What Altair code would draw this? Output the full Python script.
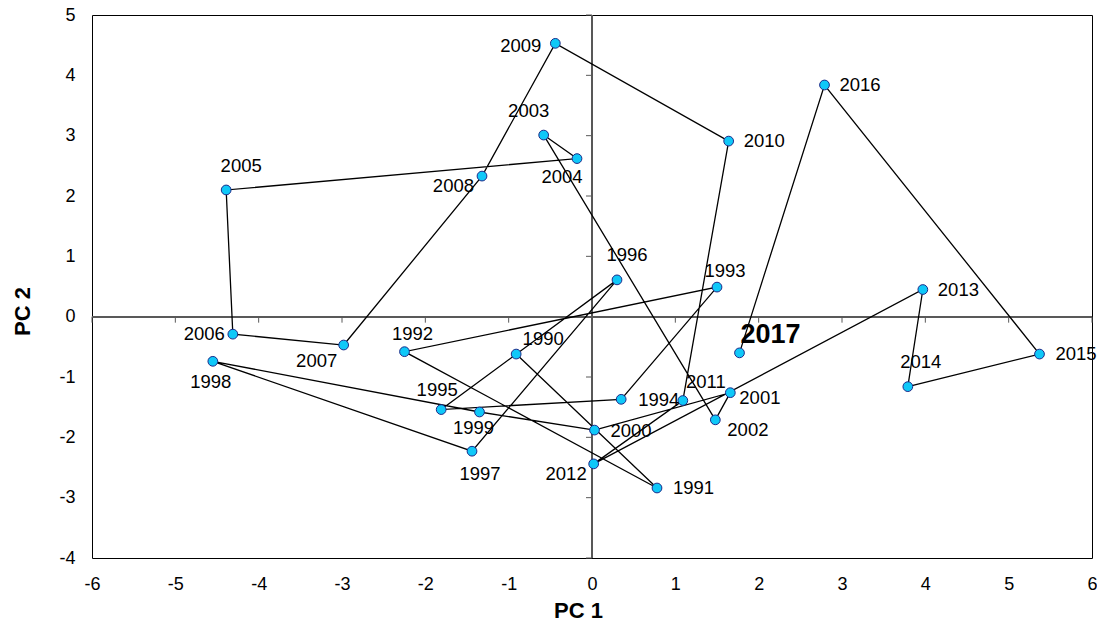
import altair as alt
import pandas as pd

# Principal-component scores by year
years = list(range(1990, 2018))
pc1 = [-0.91, 0.78, -2.25, 1.50, 0.35, -1.81, 0.30, -1.44, -4.55, -1.35,
       0.03, 1.66, 1.48, -0.58, -0.18, -4.39, -4.31, -2.98, -1.32, -0.44,
       1.64, 1.09, 0.02, 3.97, 3.79, 5.37, 2.79, 1.77]
pc2 = [-0.62, -2.84, -0.58, 0.49, -1.37, -1.54, 0.61, -2.23, -0.74, -1.58,
       -1.88, -1.26, -1.71, 3.01, 2.62, 2.10, -0.29, -0.47, 2.33, 4.53,
       2.91, -1.39, -2.44, 0.45, -1.16, -0.62, 3.84, -0.60]

x_ticks = list(range(-6, 7))
y_ticks = list(range(-4, 6))

df = pd.DataFrame({"year": years, "pc1": pc1, "pc2": pc2})
df["label"] = df["year"].astype(str)

# label nudges (align, dx, dy) in pixels relative to each point
label_nudge = {
    1990: ("center", 27, -15), 1991: ("left", 16, 0), 1992: ("center", 8, -18),
    1993: ("center", 8, -16), 1994: ("left", 17, 1), 1995: ("center", -4, -20),
    1996: ("center", 10, -25), 1997: ("center", 8, 23), 1998: ("center", -2, 21),
    1999: ("center", -6, 16), 2000: ("left", 16, 1), 2001: ("left", 9, 5),
    2002: ("left", 12, 10), 2003: ("center", -15, -24), 2004: ("center", -15, 18),
    2005: ("center", 15, -24), 2006: ("right", -8, 0), 2007: ("center", -27, 16),
    2008: ("right", -8, 10), 2009: ("right", -14, 3), 2010: ("left", 15, 0),
    2011: ("center", 23, -19), 2012: ("right", -7, 10), 2013: ("left", 15, 0),
    2014: ("center", 13, -25), 2015: ("left", 16, 0), 2016: ("left", 15, 0),
    2017: ("center", 31, -18),
}

FONT = "Liberation Sans"
xscale = alt.Scale(domain=[-6, 6], nice=False, zero=False)
yscale = alt.Scale(domain=[-4, 5], nice=False, zero=False)

x_axis = alt.Axis(values=x_ticks, grid=False, domain=False, ticks=False, tickSize=0,
                  labelPadding=17, labelFontSize=18, labelFont=FONT, labelColor="black",
                  labelFlush=False, labelOverlap=False, labelBound=False,
                  labelExpr="toString(datum.value)",
                  title="PC 1", titleFont=FONT, titleFontSize=22, titleFontWeight="bold",
                  titleColor="black", titleX=486, titleY=52, titleAlign="center",
                  titleBaseline="middle")
y_axis = alt.Axis(values=y_ticks, grid=False, domain=False, ticks=False, tickSize=0,
                  labelPadding=17, labelFontSize=18, labelFont=FONT, labelColor="black",
                  labelFlush=False, labelOverlap=False, labelBound=False,
                  labelExpr="toString(datum.value)",
                  title="PC 2", titleFont=FONT, titleFontSize=22, titleFontWeight="bold",
                  titleColor="black", titleAngle=270, titleX=-70, titleY=296,
                  titleAlign="center", titleBaseline="middle")

X = alt.X("pc1:Q", scale=xscale, axis=x_axis, title="PC 1")
Y = alt.Y("pc2:Q", scale=yscale, axis=y_axis, title="PC 2")

base = alt.Chart(df)

# axis lines through the origin
zero_v = base.mark_rule(color="#595959", strokeWidth=1).encode(
    x=alt.datum(0, scale=xscale, axis=x_axis, title="PC 1"))
zero_h = base.mark_rule(color="#595959", strokeWidth=1).encode(
    y=alt.datum(0, scale=yscale, axis=y_axis, title="PC 2"))

# tick marks on the zero lines
xt = alt.Chart(pd.DataFrame({"t": x_ticks})).mark_rule(
    color="#595959", strokeWidth=1, y2Offset=6).encode(
    x=alt.X("t:Q", scale=xscale, axis=x_axis, title="PC 1"),
    y=alt.datum(0, scale=yscale, axis=y_axis, title="PC 2"), y2=alt.datum(0))
yt = alt.Chart(pd.DataFrame({"t": y_ticks})).mark_rule(
    color="#595959", strokeWidth=1, x2Offset=-6).encode(
    y=alt.Y("t:Q", scale=yscale, axis=y_axis, title="PC 2"),
    x=alt.datum(0, scale=xscale, axis=x_axis, title="PC 1"), x2=alt.datum(0))

path = base.mark_line(color="black", strokeWidth=1.3).encode(
    x=X, y=Y, order=alt.Order("year:Q"))

points = base.mark_circle(size=95, color="#0FC8F8", stroke="#1C2B8A",
                          strokeWidth=1, opacity=1).encode(x=X, y=Y)

labels = []
for yr, (al, dx, dy) in label_nudge.items():
    bold = yr == 2017
    labels.append(
        base.transform_filter(alt.datum.year == yr).mark_text(
            align=al, baseline="middle", dx=dx, dy=dy, font=FONT,
            fontSize=27 if bold else 18.5,
            fontWeight="bold" if bold else "normal", color="black",
        ).encode(x=X, y=Y, text="label:N")
    )

chart = alt.layer(zero_v, zero_h, xt, yt, path, points, *labels).properties(
    width=1000, height=543,
    autosize=alt.AutoSizeParams(type="none"),
    padding={"left": 92, "top": 15, "right": 5, "bottom": 63},
    background="white",
).configure_view(stroke="black", strokeWidth=1)

chart.save("out.html", embed_options={"renderer": "svg", "actions": False})
